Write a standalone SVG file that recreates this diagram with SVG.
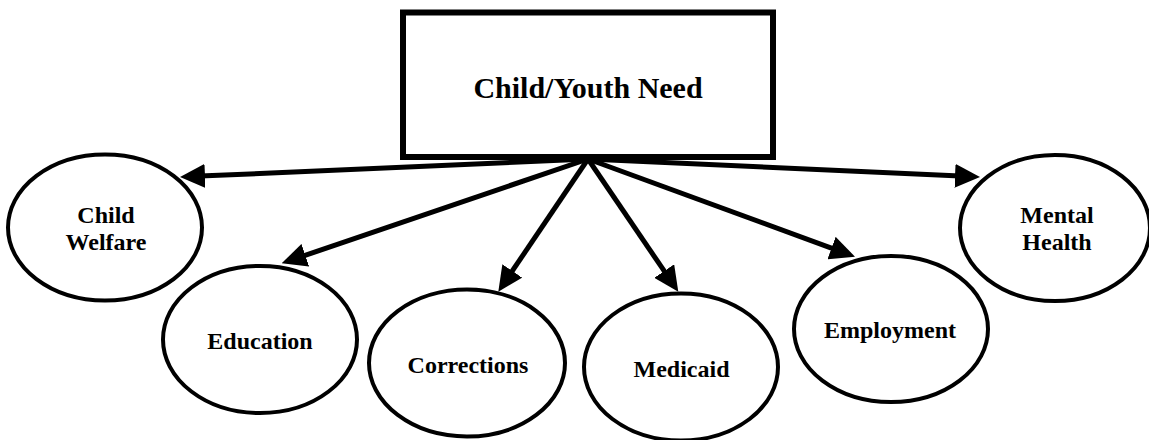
<svg xmlns="http://www.w3.org/2000/svg" width="1149" height="440" viewBox="0 0 1149 440">
<style>
.box{fill:#fff;stroke:#000;stroke-width:6}
.ell{fill:#fff;stroke:#000;stroke-width:4}
.lbl{font-family:"Liberation Serif","Times New Roman",serif;font-weight:bold;font-size:24px;text-anchor:middle;fill:#000}
.title{font-size:30px}
.conn{stroke:#000;stroke-width:5;fill:none;marker-end:url(#ah)}
</style>
<defs>
<marker id="ah" markerUnits="userSpaceOnUse" markerWidth="25" markerHeight="24" refX="5" refY="12" orient="auto">
<path d="M0,0 L25,12 L0,24 Z" fill="#000"/>
</marker>
</defs>
<rect width="1149" height="440" fill="#fff"/>
<g id="need">
<rect class="box" x="403" y="12.5" width="370" height="144.5"/>
<text class="lbl title" x="588" y="98">Child/Youth Need</text>
</g>
<g id="child-welfare">
<ellipse class="ell" cx="105" cy="227.5" rx="97" ry="73"/>
<text class="lbl" x="106" y="222.7">Child</text>
<text class="lbl" x="106" y="250">Welfare</text>
</g>
<g id="education">
<ellipse class="ell" cx="260" cy="339.5" rx="97" ry="73.5"/>
<text class="lbl" x="260" y="349.3">Education</text>
</g>
<g id="corrections">
<ellipse class="ell" cx="467" cy="363" rx="98" ry="73.5"/>
<text class="lbl" x="468" y="372.7">Corrections</text>
</g>
<g id="medicaid">
<ellipse class="ell" cx="681" cy="367" rx="97" ry="73.5"/>
<text class="lbl" x="681.5" y="377.3">Medicaid</text>
</g>
<g id="employment">
<ellipse class="ell" cx="891" cy="329" rx="97" ry="73"/>
<text class="lbl" x="890" y="338.3">Employment</text>
</g>
<g id="mental-health">
<ellipse class="ell" cx="1055" cy="228" rx="95" ry="73"/>
<text class="lbl" x="1057" y="222.7">Mental</text>
<text class="lbl" x="1057" y="250">Health</text>
</g>
<g id="connectors">
<line class="conn" x1="588" y1="159" x2="200" y2="176.1"/>
<line class="conn" x1="588" y1="159" x2="300.6" y2="256.9"/>
<line class="conn" x1="588" y1="159" x2="509.5" y2="275.1"/>
<line class="conn" x1="588" y1="159" x2="667.05" y2="275.2"/>
<line class="conn" x1="588" y1="159" x2="836.2" y2="249.8"/>
<line class="conn" x1="588" y1="159" x2="960" y2="176.1"/>
</g>
</svg>
